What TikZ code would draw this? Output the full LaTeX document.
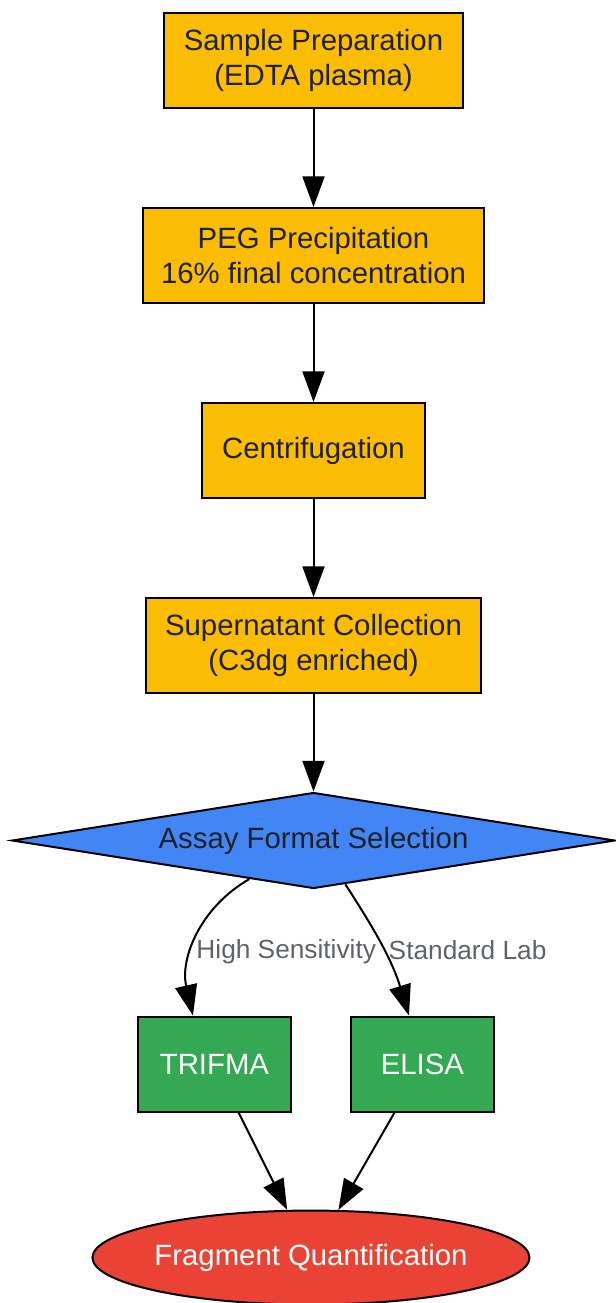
\documentclass[tikz,border=0pt]{standalone}
\usepackage{fontspec}
\setmainfont{Liberation Sans}
\usetikzlibrary{shapes.geometric,arrows.meta}

\definecolor{prepyellow}{HTML}{FBBC04}
\definecolor{choiceblue}{HTML}{4285F4}
\definecolor{assaygreen}{HTML}{34A853}
\definecolor{outred}{HTML}{EA4335}
\definecolor{darktext}{HTML}{202124}
\definecolor{labelgray}{HTML}{5F6368}

\tikzstyle{prep} = [rectangle, minimum height=71.25pt, align=center, draw=black, line width=1.5pt, fill=prepyellow, text=darktext, font=\fontsize{22}{26.4}\selectfont]
\tikzstyle{choice} = [diamond, shape aspect=6.3, minimum width=452.25pt, minimum height=72pt, inner sep=0pt, draw=black, line width=1.5pt, fill=choiceblue, text=darktext, font=\fontsize{22}{26.4}\selectfont]
\tikzstyle{assay} = [rectangle, minimum height=71.25pt, draw=black, line width=1.5pt, fill=assaygreen, text=white, font=\fontsize{22}{26.4}\selectfont]
\tikzstyle{outcome} = [ellipse, minimum width=327pt, minimum height=70.5pt, inner sep=0pt, inner xsep=-1.5pt, draw=black, line width=1.5pt, fill=outred, text=white, font=\fontsize{22}{26.4}\selectfont]
\tikzstyle{arrow} = [line width=1.5pt, -{Triangle[length=23pt, width=16.5pt]}]
\tikzstyle{edgelabel} = [text=labelgray, inner sep=3pt, font=\fontsize{19.7}{23}\selectfont]

\begin{document}
\begin{tikzpicture}[x=0.75pt, y=-0.75pt, node distance=146.25pt]

  \useasboundingbox (0,0) rectangle (615,1303);

  \node (prepare) [prep, minimum width=224.25pt] at (313.5,60.5) {Sample Preparation\\(EDTA plasma)};
  \node (peg) [prep, minimum width=255.75pt, below of=prepare] {PEG Precipitation\\16\% final concentration};
  \node (spin) [prep, minimum width=167.25pt, below of=peg] {Centrifugation};
  \node (super) [prep, minimum width=251.25pt, below of=spin] {Supernatant Collection\\(C3dg enriched)};
  \node (select) [choice, below of=super] {Assay Format Selection};
  \node (trifma) [assay, minimum width=114.75pt, below of=select, xshift=-74.3pt, yshift=-21.4pt] {TRIFMA};
  \node (elisa) [assay, minimum width=107.25pt, below of=select, xshift=81.7pt, yshift=-21.4pt] {ELISA};
  \node (quant) [outcome, below of=trifma, xshift=72.4pt, yshift=1.1pt] {Fragment Quantification};

  % --- %

  \draw [arrow] (prepare) -- (peg);
  \draw [arrow] (peg) -- (spin);
  \draw [arrow] (spin) -- (super);
  \draw [arrow] (super) -- (select);
  \draw [arrow] (select.211) to[out=210, in=103] node[pos=0.6, right, edgelabel, inner sep=2pt] {High Sensitivity} ([xshift=-16.1pt]trifma.north);
  \draw [arrow] (select.306) to[out=-57, in=107] node[pos=0.52, right, edgelabel] {Standard Lab} ([xshift=-10.1pt]elisa.north);
  \draw [arrow] (trifma) -- (quant);
  \draw [arrow] (elisa) -- (quant);

\end{tikzpicture}
\end{document}
